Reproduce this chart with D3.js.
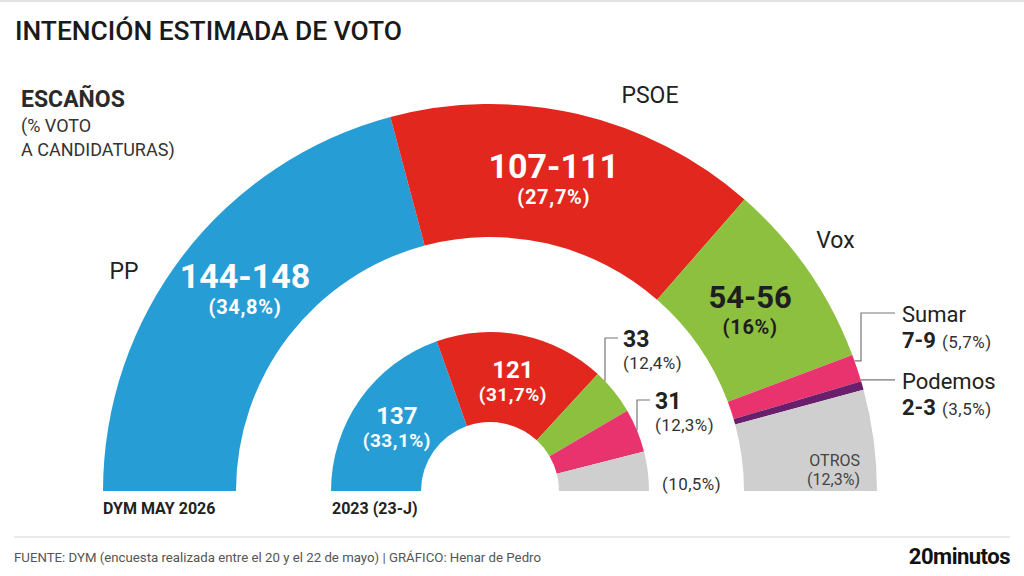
<!DOCTYPE html>
<html>
<head>
<meta charset="utf-8">
<script src="https://cdn.jsdelivr.net/npm/d3@7"></script>
<style>
  body { margin: 0; background: #fff; }
  text { font-family: Roboto, "Noto Sans", sans-serif; }
</style>
</head>
<body>
<div id="svgContainer"></div>
<script>
// data (seat ranges use their mid point for the arc size)
var parties = ["PP", "PSOE", "Vox", "Sumar", "Podemos", "Otros"];
var seats2026 = [146, 109, 55, 8, 2.5, 29.5];
var seatText2026 = ["144-148", "107-111", "54-56", "7-9", "2-3", ""];
var vote2026 = ["34,8%", "27,7%", "16%", "5,7%", "3,5%", "12,3%"];
var seats2023 = [137, 121, 33, 31, 0, 28];
var vote2023 = ["33,1%", "31,7%", "12,4%", "12,3%", "", "10,5%"];
var partyColors = ["#279dd6", "#e2271e", "#8dc03e", "#e8336e", "#6a1f6c", "#cfcfcf"];

var width = 1024, height = 576;
var cx = 490, cy = 491;
var big = {inner: 254, outer: 387};
var small = {inner: 69, outer: 159};

var svg = d3.select("#svgContainer")
    .append("svg")
    .attr("width", width)
    .attr("height", height);

svg.append("rect").attr("x", 0).attr("y", 0).attr("width", width).attr("height", 2).attr("fill", "#e2e2e2");

// titles
svg.append("text").attr("x", 15).attr("y", 40)
    .attr("textLength", 387).attr("lengthAdjust", "spacingAndGlyphs")
    .style("font-size", "25px").style("font-weight", 500).style("fill", "#1a1a1a")
    .text("INTENCIÓN ESTIMADA DE VOTO");
svg.append("text").attr("x", 21).attr("y", 107)
    .style("font-size", "23px").style("font-weight", 700).style("fill", "#2a2a2a")
    .text("ESCAÑOS");
svg.append("text").attr("x", 21).attr("y", 132)
    .style("font-size", "18px").style("fill", "#333")
    .text("(% VOTO");
svg.append("text").attr("x", 21).attr("y", 156)
    .style("font-size", "18px").style("fill", "#333")
    .text("A CANDIDATURAS)");

var pie = d3.pie().sort(null).value(function(d) { return d; })
    .startAngle(-Math.PI / 2).endAngle(Math.PI / 2);

var arcs2026 = pie(seats2026);
var arcs2023 = pie(seats2023);

var arcBig = d3.arc().innerRadius(big.inner).outerRadius(big.outer);
var arcSmall = d3.arc().innerRadius(small.inner).outerRadius(small.outer);

var g = svg.append("g").attr("transform", "translate(" + cx + "," + cy + ")");

g.selectAll("path.big").data(arcs2026).enter().append("path")
    .attr("class", "big")
    .attr("d", arcBig)
    .attr("fill", function(d, i) { return partyColors[i]; });

g.selectAll("path.small").data(arcs2023).enter().append("path")
    .attr("class", "small")
    .attr("d", arcSmall)
    .attr("fill", function(d, i) { return partyColors[i]; });

// point on a circle for a d3 pie angle
function pt(r, a) {
    return [r * Math.sin(a), -r * Math.cos(a)];
}
function mid(d) { return (d.startAngle + d.endAngle) / 2; }

// labels inside the big ring (pulled a little towards the top, as in the print)
var pull = [0.03, -0.026, 0];
[0, 1, 2].forEach(function(i) {
    var c = pt((big.inner + big.outer) / 2 - 4, mid(arcs2026[i]) + pull[i]);
    var ink = i == 2 ? "#1e1e1e" : "#fff";
    g.append("text").attr("x", c[0]).attr("y", c[1] - 3)
        .attr("text-anchor", "middle")
        .style("font-size", i == 2 ? "31px" : "34px").style("font-weight", 700).style("fill", ink)
        .text(seatText2026[i]);
    g.append("text").attr("x", c[0]).attr("y", c[1] + 23)
        .attr("text-anchor", "middle")
        .style("font-size", "20px").style("font-weight", 700).style("fill", ink)
        .style("letter-spacing", "0.7px")
        .text("(" + vote2026[i] + ")");
});

// party names round the big ring
var nameDeg = [31, 112, 144];
[0, 1, 2].forEach(function(i) {
    var a = (nameDeg[i] - 90) * Math.PI / 180;
    var p = pt(427, a);
    g.append("text").attr("x", p[0]).attr("y", p[1] + 8)
        .attr("text-anchor", "middle")
        .style("font-size", "23px").style("fill", "#222")
        .text(parties[i]);
});

// Sumar and Podemos callouts
var ps = pt(big.outer, mid(arcs2026[3]) - 0.02);
var elbowX = big.outer - 16, textX = big.outer + 25;
g.append("path")
    .attr("d", "M" + ps[0] + "," + ps[1] + "H" + elbowX + "V" + (313 - cy) + "H" + (textX - 7))
    .attr("fill", "none").attr("stroke", "#777").attr("stroke-width", 1.2);
g.append("text").attr("x", textX).attr("y", 322 - cy)
    .style("font-size", "22px").style("fill", "#222").text(parties[3]);
var t = g.append("text").attr("x", textX).attr("y", 348 - cy).style("fill", "#222");
t.append("tspan").style("font-size", "22px").style("font-weight", 700).text(seatText2026[3]);
t.append("tspan").attr("dx", 6).style("font-size", "17px").style("fill", "#333")
    .style("letter-spacing", "0.5px").text("(" + vote2026[3] + ")");

var pp = pt(big.outer, mid(arcs2026[4]) - 0.015);
g.append("path")
    .attr("d", "M" + pp[0] + "," + pp[1] + "H" + (textX - 7))
    .attr("fill", "none").attr("stroke", "#777").attr("stroke-width", 1.2);
g.append("text").attr("x", textX).attr("y", pp[1] + 9)
    .style("font-size", "22px").style("fill", "#222").text(parties[4]);
t = g.append("text").attr("x", textX).attr("y", pp[1] + 35).style("fill", "#222");
t.append("tspan").style("font-size", "22px").style("font-weight", 700).text(seatText2026[4]);
t.append("tspan").attr("dx", 6).style("font-size", "17px").style("fill", "#333")
    .style("letter-spacing", "0.5px").text("(" + vote2026[4] + ")");

// Otros inside grey
g.append("text").attr("x", big.outer - 17).attr("y", 466 - cy)
    .attr("text-anchor", "end")
    .style("font-size", "16px").style("fill", "#444").text(parties[5].toUpperCase());
g.append("text").attr("x", big.outer - 17).attr("y", 485 - cy)
    .attr("text-anchor", "end")
    .style("font-size", "16px").style("fill", "#444").text("(" + vote2026[5] + ")");

// labels inside the small ring
[0, 1].forEach(function(i) {
    var c = arcSmall.centroid(arcs2023[i]);
    g.append("text").attr("x", c[0]).attr("y", c[1] - 1)
        .attr("text-anchor", "middle")
        .style("font-size", "24px").style("font-weight", 700).style("fill", "#fff")
        .text(seats2023[i]);
    g.append("text").attr("x", c[0]).attr("y", c[1] + 22)
        .attr("text-anchor", "middle")
        .style("font-size", "19px").style("font-weight", 700).style("fill", "#fff")
        .style("letter-spacing", "0.5px")
        .text("(" + vote2023[i] + ")");
});

// small ring callouts (Vox, Sumar)
function callout(i, labelX, labelY) {
    var lx = labelX - 18;
    var ly = -Math.sqrt(small.outer * small.outer - lx * lx);
    g.append("path")
        .attr("d", "M" + lx + "," + ly + "V" + (labelY - 9) + "H" + (labelX - 5))
        .attr("fill", "none").attr("stroke", "#777").attr("stroke-width", 1.2);
    g.append("text").attr("x", labelX).attr("y", labelY)
        .style("font-size", "23px").style("font-weight", 700).style("fill", "#222")
        .text(seats2023[i]);
    g.append("text").attr("x", labelX).attr("y", labelY + 22)
        .style("font-size", "17px").style("fill", "#333")
        .style("letter-spacing", "0.4px")
        .text("(" + vote2023[i] + ")");
}
callout(2, small.outer - 26, 347 - cy);
callout(3, small.outer + 6, 409 - cy);

g.append("text").attr("x", small.outer + 13).attr("y", 490 - cy)
    .style("font-size", "17px").style("fill", "#333")
    .style("letter-spacing", "0.4px")
    .text("(" + vote2023[5] + ")");

// ring captions
g.append("text").attr("x", -big.outer).attr("y", 514 - cy)
    .style("font-size", "16px").style("font-weight", 700).style("fill", "#222")
    .text("DYM MAY 2026");
g.append("text").attr("x", -small.outer + 1).attr("y", 514 - cy)
    .style("font-size", "16px").style("font-weight", 700).style("fill", "#222")
    .text("2023 (23-J)");

// footer
svg.append("line").attr("x1", 14).attr("x2", 1010).attr("y1", 537).attr("y2", 537)
    .style("stroke", "#d6d6d6").style("stroke-width", 1);
svg.append("text").attr("x", 14).attr("y", 562)
    .attr("textLength", 527).attr("lengthAdjust", "spacingAndGlyphs")
    .style("font-size", "13px").style("fill", "#555")
    .text("FUENTE: DYM (encuesta realizada entre el 20 y el 22 de mayo)  |  GRÁFICO: Henar de Pedro");
svg.append("text").attr("x", 1010).attr("y", 564)
    .attr("text-anchor", "end")
    .style("font-size", "22px").style("font-weight", 700).style("fill", "#111")
    .style("letter-spacing", "-0.5px")
    .text("20minutos");
</script>
</body>
</html>
